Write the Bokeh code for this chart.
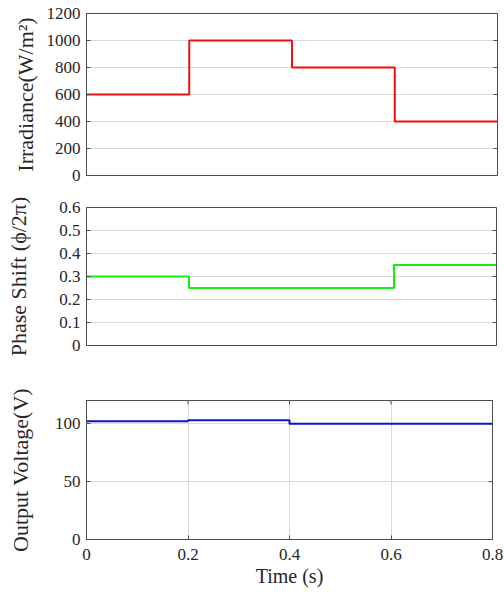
from bokeh.plotting import figure
from bokeh.layouts import column
from bokeh.models import Range1d, FixedTicker, CustomJSTickFormatter
from bokeh.embed import file_html
from bokeh.resources import INLINE
import math

# ---- data ----
t_irr = [0, 0.2, 0.4, 0.6, 0.8]
irradiance = [600, 1000, 800, 400, 400]
t_phase = [0, 0.2, 0.6, 0.8]
phase = [0.3, 0.25, 0.35, 0.35]
t_volt = [0, 0.2, 0.4, 0.8]
voltage = [102, 103, 100, 100]

x_range_end = 0.8
x_ticks = [0, 0.2, 0.4, 0.6, 0.8]
irr_ticks = [0, 200, 400, 600, 800, 1000, 1200]
phase_ticks = [0, 0.1, 0.2, 0.3, 0.4, 0.5, 0.6]
volt_ticks = [0, 50, 100]

FONT = "Liberation Serif"
TXT = "#262626"
AX = "#4d4d4d"
GRID = "#dadada"
fmt = CustomJSTickFormatter(code="return String(Math.round(tick*1000)/1000)")


def make_fig(width, height, y_range, yticks, ylabel, label_standoff,
             border, show_x=False):
    p = figure(width=width, height=height, output_backend="svg",
               toolbar_location=None,
               x_range=Range1d(0, x_range_end), y_range=Range1d(*y_range),
               x_axis_location="below" if show_x else None,
               min_border_left=border[0], min_border_right=border[1],
               min_border_top=border[2], min_border_bottom=border[3])
    if "frame_align" in type(p).properties():
        p.frame_align = False
    p.outline_line_color = AX
    p.outline_line_width = 1
    p.background_fill_color = "white"
    p.border_fill_color = "white"

    ya = p.yaxis[0]
    ya.ticker = FixedTicker(ticks=yticks)
    ya.formatter = fmt
    ya.axis_label = ylabel
    ya.axis_label_text_font = FONT
    ya.axis_label_text_font_style = "normal"
    ya.axis_label_text_font_size = "22px"
    ya.axis_label_text_color = TXT
    ya.axis_label_standoff = label_standoff
    ya.major_label_text_font = FONT
    ya.major_label_text_font_size = "17px"
    ya.major_label_text_color = TXT
    ya.major_label_standoff = 6
    ya.major_tick_in = 4
    ya.major_tick_out = 0
    ya.minor_tick_in = 0
    ya.minor_tick_out = 0
    ya.axis_line_color = AX
    ya.major_tick_line_color = AX

    # inward ticks on the right edge of the box
    p.scatter(x=[x_range_end] * len(yticks), y=yticks, marker="dash", size=8,
              line_color=AX, line_width=1)

    p.ygrid.ticker = FixedTicker(ticks=yticks)
    p.ygrid.grid_line_color = GRID
    p.ygrid.grid_line_width = 1

    if show_x:
        xa = p.xaxis[0]
        xa.ticker = FixedTicker(ticks=x_ticks)
        xa.formatter = fmt
        xa.axis_label = "Time (s)"
        xa.axis_label_text_font = FONT
        xa.axis_label_text_font_style = "normal"
        xa.axis_label_text_font_size = "20px"
        xa.axis_label_text_color = TXT
        xa.axis_label_standoff = 2
        xa.major_label_text_font = FONT
        xa.major_label_text_font_size = "17px"
        xa.major_label_text_color = TXT
        xa.major_label_standoff = 9
        xa.major_tick_in = 4
        xa.major_tick_out = 0
        xa.minor_tick_in = 0
        xa.minor_tick_out = 0
        xa.axis_line_color = AX
        xa.major_tick_line_color = AX
        # inward ticks on the top edge of the box
        p.scatter(x=x_ticks, y=[y_range[1]] * len(x_ticks), marker="dash",
                  angle=math.pi / 2, size=8, line_color=AX, line_width=1)
        p.xgrid.ticker = FixedTicker(ticks=x_ticks)
        p.xgrid.grid_line_color = GRID
        p.xgrid.grid_line_width = 1
    else:
        p.xgrid.visible = False
    return p


p1 = make_fig(504, 191, (0, 1200), irr_ticks, "Irradiance(W/m²)", 6, (86, 7, 13, 16))
p1.step(t_irr, irradiance, mode="after", line_color="#f01010", line_width=2)

p2 = make_fig(504, 181, (0, 0.6), phase_ticks, "Phase Shift (ϕ/2π)", 25, (86, 8, 16, 27))
p2.step(t_phase, phase, mode="after", line_color="#10f010", line_width=2)

p3 = make_fig(504, 220, (0, 120), volt_ticks, "Output Voltage(V)", 19, (86, 12, 28, 53), show_x=True)
p3.step(t_volt, voltage, mode="after", line_color="#1010d0", line_width=2)

layout = column(p1, p2, p3, spacing=0)
open("out.html", "w").write(file_html(layout, INLINE))
